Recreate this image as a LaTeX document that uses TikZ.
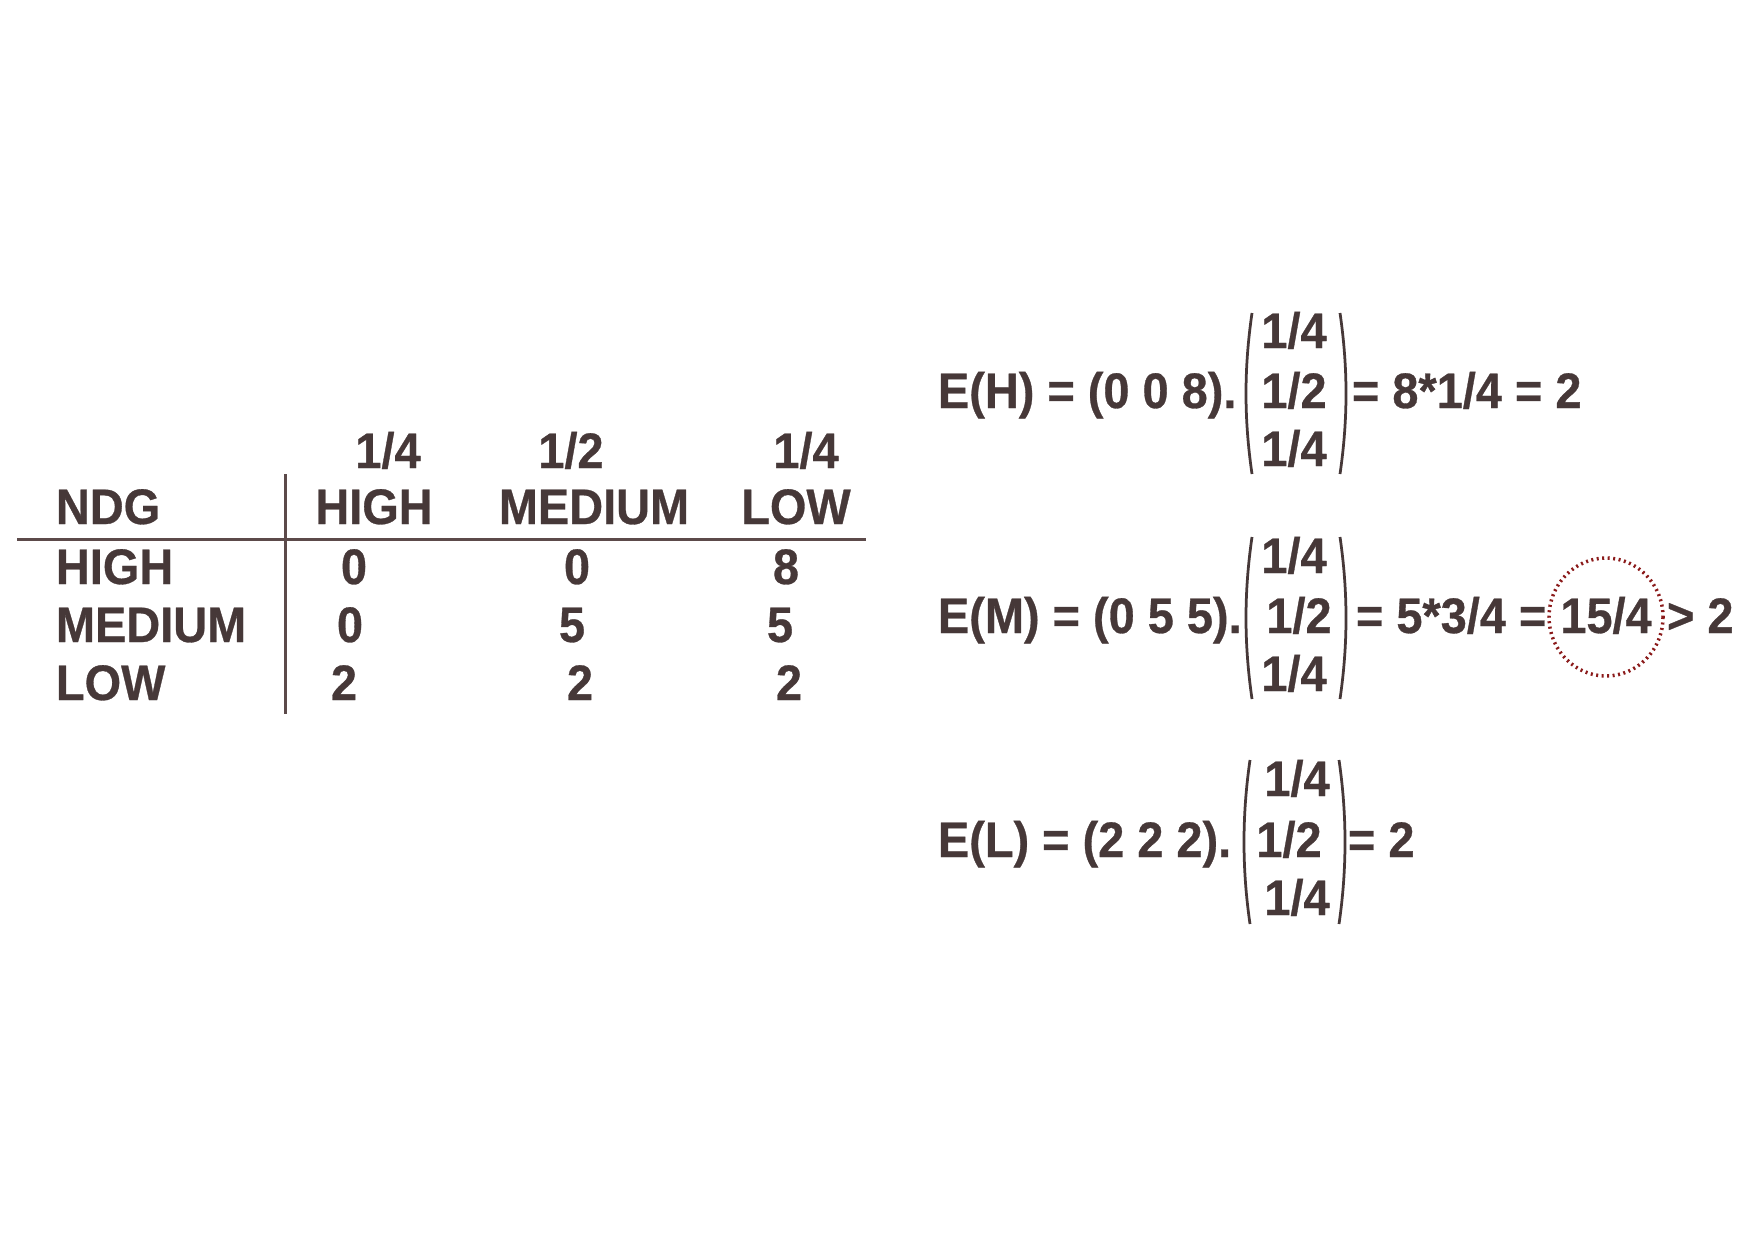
\documentclass[tikz,border=0pt]{standalone}
\usepackage{fontspec}
\newfontfamily\eqfont[FakeStretch=0.94,FakeBold=0.6]{Liberation Sans}
\definecolor{ink}{HTML}{463838}
\definecolor{rule}{HTML}{5C4A4A}
\definecolor{ring}{HTML}{8B1A1A}
\tikzset{
  txt/.style={inner sep=0pt, outer sep=0pt, text=ink, font=\eqfont\bfseries\fontsize{28.4}{33}\selectfont},
  tl/.style={txt, anchor=base west},
  tc/.style={txt, anchor=base},
  paren/.style={draw=ink, line width=0.055cm},
  tabrule/.style={draw=rule, line width=0.06cm}
}
\newcommand{\lparen}[3]{\draw[paren] (#1,#2) .. controls (#1-8,#2+55) and (#1-8,#3-55) .. (#1,#3);}
\newcommand{\rparen}[3]{\draw[paren] (#1,#2) .. controls (#1+8,#2+55) and (#1+8,#3-55) .. (#1,#3);}
\begin{document}
\begin{tikzpicture}[x=0.02cm,y=-0.02cm]
\useasboundingbox (0,0) rectangle (1754,1241);
\fill[white] (0,0) rectangle (1754,1241);
% ---------- table ----------
\node[tc] (p1) at (388,468) {1/4};
\node[tc] (p2) at (571,468) {1/2};
\node[tc] (p3) at (806,468) {1/4};
\node[tl] (ndg) at (56,524) {NDG};
\node[tc] (hH) at (374,524) {HIGH};
\node[tc] (hM) at (594,524) {MEDIUM};
\node[tc] (hL) at (796,524) {LOW};
\node[tl] (rH) at (56,584) {HIGH};
\node[tl] (rM) at (56,642) {MEDIUM};
\node[tl] (rL) at (56,700) {LOW};
\node[tc] (v11) at (354,584) {0};
\node[tc] (v12) at (577,584) {0};
\node[tc] (v13) at (786,584) {8};
\node[tc] (v21) at (350,642) {0};
\node[tc] (v22) at (572,642) {5};
\node[tc] (v23) at (780,642) {5};
\node[tc] (v31) at (344,700) {2};
\node[tc] (v32) at (580,700) {2};
\node[tc] (v33) at (789,700) {2};
\coordinate (hl1) at (17,539);
\coordinate (hl2) at (866,539);
\coordinate (vl1) at (285,474);
\coordinate (vl2) at (285,714);
\draw[tabrule] (hl1) -- (hl2);
\draw[tabrule] (vl1) -- (vl2);
% ---------- E(H) ----------
\node[tl] (eh) at (938,408) {E(H) = (0 0 8).};
\node[tc] (eh1) at (1294,348) {1/4};
\node[tc] (eh2) at (1294,408) {1/2};
\node[tc] (eh3) at (1294,466) {1/4};
\lparen{1252}{313}{474}
\rparen{1340}{313}{474}
\node[tl] (ehr) at (1352,408) {= 8*1/4 = 2};
% ---------- E(M) ----------
\node[tl] (em) at (938,633) {E(M) = (0 5 5).};
\node[tc] (em1) at (1294,573) {1/4};
\node[tc] (em2) at (1299,633) {1/2};
\node[tc] (em3) at (1294,691) {1/4};
\lparen{1252}{537}{699}
\rparen{1340}{537}{699}
\node[tl] (emr) at (1356,633) {= 5*3/4 =};
\node[tc] (q) at (1606,633) {15/4};
\node[tl] (gt) at (1667,633) {> 2};
\draw[draw=ring, line width=0.07cm, dash pattern=on 0.04cm off 0.07cm] (1606,617) ellipse [x radius=57, y radius=59];
% ---------- E(L) ----------
\node[tl] (el) at (938,857) {E(L) = (2 2 2).};
\node[tc] (el1) at (1297,796) {1/4};
\node[tc] (el2) at (1289,857) {1/2};
\node[tc] (el3) at (1297,915) {1/4};
\lparen{1250}{760}{924}
\rparen{1339}{760}{924}
\node[tl] (elr) at (1348,857) {= 2};
\end{tikzpicture}
\end{document}
